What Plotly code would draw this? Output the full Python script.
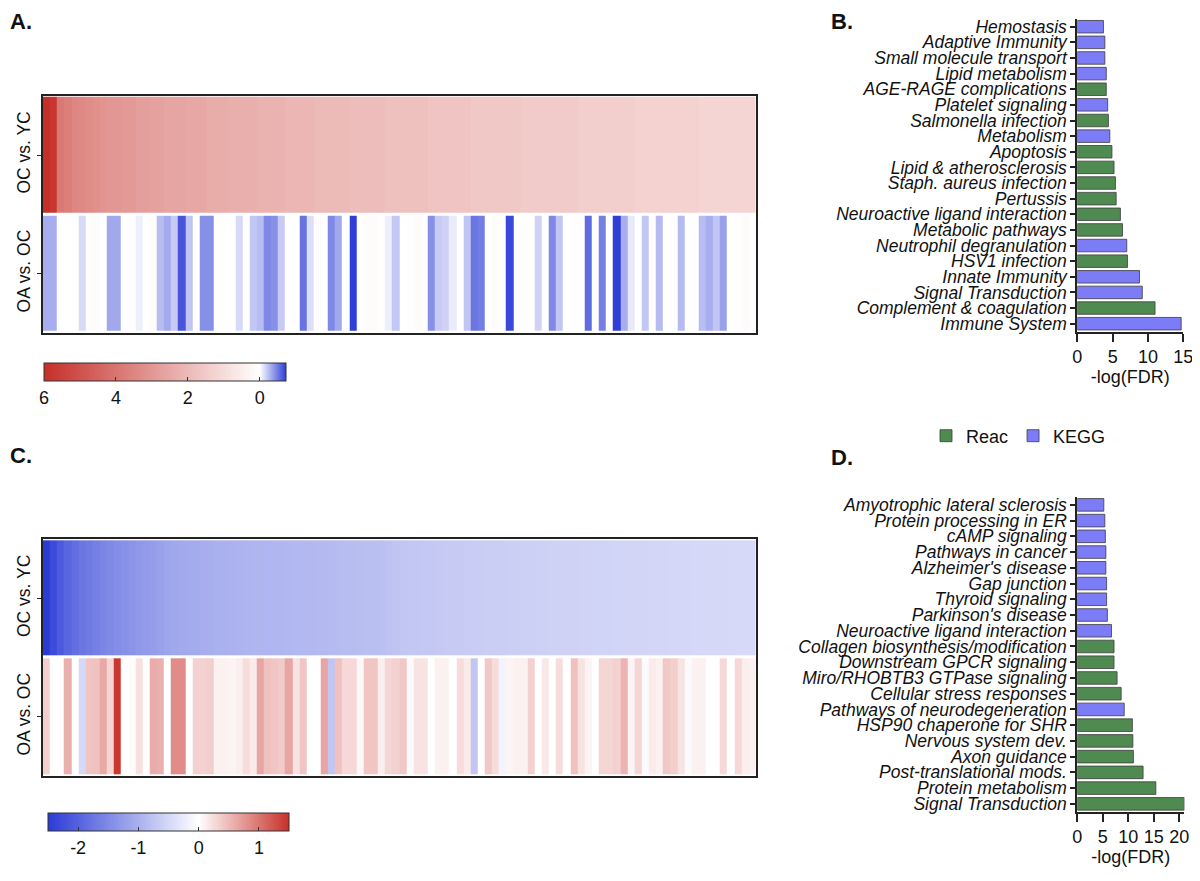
import plotly.graph_objects as go

# the page body keeps an 8px margin, so the figure is a bit smaller than the window
PAD = 8
W, H = 1200 - 2 * PAD, 881 - 2 * PAD
FONT = "Liberation Sans, Arial, sans-serif"

# ---- panel A heatmap (log fold change, sorted by OC vs. YC) ----
rows = ["OC vs. YC", "OA vs. OC"]

a_oc_yc = [6.0, 5.8, 3.9, 3.7, 3.5, 3.4, 3.3, 3.2, 3.1, 3.0,
           3.0, 2.9, 2.9, 2.8, 2.8, 2.7, 2.7, 2.6, 2.6, 2.6,
           2.5, 2.5, 2.5, 2.4, 2.4, 2.4, 2.3, 2.3, 2.3, 2.3,
           2.2, 2.2, 2.2, 2.2, 2.1, 2.1, 2.1, 2.1, 2.0, 2.0,
           2.0, 2.0, 2.0, 1.9, 1.9, 1.9, 1.9, 1.9, 1.8, 1.8,
           1.8, 1.8, 1.8, 1.8, 1.7, 1.7, 1.7, 1.7, 1.7, 1.7,
           1.6, 1.6, 1.6, 1.6, 1.6, 1.6, 1.6, 1.5, 1.5, 1.5,
           1.5, 1.5, 1.5, 1.5, 1.5, 1.4, 1.4, 1.4, 1.4, 1.4,
           1.4, 1.4, 1.4, 1.3, 1.3, 1.3, 1.3, 1.3, 1.3, 1.3,
           1.3, 1.3, 1.2, 1.2, 1.2, 1.2, 1.2, 1.2, 1.2, 1.2]

a_oa_oc = [-0.31, -0.31, 0.0, 0.0, 0.02, -0.14, 0.08, 0.1, 0.0, -0.33,
           -0.33, 0.0, 0.02, -0.06, 0.0, 0.12, -0.25, -0.32, -0.2, -0.64,
           -0.22, 0.0, -0.42, -0.42, 0.0, 0.02, 0.0, -0.14, 0.0, -0.21,
           -0.25, -0.45, -0.42, -0.2, 0.0, 0.02, -0.53, -0.12, 0.08, 0.0,
           -0.45, -0.33, 0.0, -0.73, 0.02, 0.12, 0.1, 0.0, -0.06, -0.21,
           0.0, 0.02, 0.1, 0.05, -0.42, -0.2, -0.17, -0.07, 0.03, -0.22,
           -0.52, -0.49, 0.0, 0.1, 0.0, -0.69, 0.0, 0.02, 0.0, -0.17,
           0.0, -0.45, -0.22, 0.0, 0.05, 0.03, -0.56, 0.0, -0.48, 0.0,
           -0.73, -0.31, -0.08, 0.0, -0.21, 0.03, -0.26, 0.0, 0.02, -0.26,
           0.0, 0.03, -0.25, -0.31, -0.22, -0.36, 0.0, 0.05, 0.12, 0.03]

# ---- panel C heatmap ----
c_oc_yc = [-2.5, -2.3, -2.1, -1.95, -1.85, -1.75, -1.7, -1.62, -1.56, -1.5,
           -1.45, -1.4, -1.36, -1.32, -1.28, -1.25, -1.2, -1.15, -1.12, -1.1,
           -1.08, -1.06, -1.04, -1.02, -1.0, -0.99, -0.98, -0.97, -0.96, -0.95,
           -0.95, -0.94, -0.93, -0.93, -0.92, -0.91, -0.91, -0.9, -0.89, -0.88,
           -0.87, -0.86, -0.85, -0.84, -0.83, -0.82, -0.81, -0.8, -0.78, -0.75,
           -0.73, -0.72, -0.71, -0.7, -0.69, -0.68, -0.67, -0.66, -0.66, -0.65,
           -0.64, -0.64, -0.63, -0.62, -0.62, -0.61, -0.61, -0.6, -0.6, -0.59,
           -0.59, -0.58, -0.58, -0.57, -0.57, -0.56, -0.56, -0.55, -0.55, -0.55,
           -0.54, -0.54, -0.53, -0.53, -0.53, -0.52, -0.52, -0.52, -0.51, -0.51,
           -0.51, -0.5, -0.5, -0.5, -0.49, -0.49, -0.49, -0.48, -0.48, -0.48]

c_oa_oc = [0.35, 0.0, 0.0, 0.57, 0.0, -0.5, 0.43, 0.45, 0.63, 0.3,
           1.45, 0.0, 0.03, 0.22, 0.0, 0.6, 0.57, 0.0, 0.83, 0.83,
           0.0, 0.33, 0.33, 0.35, 0.1, 0.1, 0.08, 0.12, 0.25, 0.15,
           0.65, 0.45, 0.42, 0.38, 0.65, 0.2, 0.42, 0.0, 0.0, 0.65,
           -0.74, 0.45, 0.28, 0.28, 0.05, 0.42, 0.42, 0.12, 0.3, 0.33,
           0.4, -0.05, 0.2, 0.2, 0.0, 0.1, 0.1, 0.0, 0.25, 0.15,
           -0.74, 0.0, 0.4, 0.25, -0.15, 0.08, 0.1, 0.1, 0.33, 0.0,
           0.17, 0.0, 0.25, 0.0, 0.45, 0.2, 0.08, 0.0, 0.3, 0.3,
           0.33, 0.55, 0.08, 0.3, -0.05, 0.15, 0.1, 0.4, 0.35, 0.2,
           -0.05, 0.1, 0.1, 0.0, 0.0, 0.28, 0.0, 0.28, 0.12, 0.1]

# ---- panel B enrichment ----
b_terms = ["Hemostasis", "Adaptive Immunity", "Small molecule transport",
           "Lipid metabolism", "AGE-RAGE complications", "Platelet signaling",
           "Salmonella infection", "Metabolism", "Apoptosis",
           "Lipid & atherosclerosis", "Staph. aureus infection", "Pertussis",
           "Neuroactive ligand interaction", "Metabolic pathways",
           "Neutrophil degranulation", "HSV1 infection", "Innate Immunity",
           "Signal Transduction", "Complement & coagulation", "Immune System"]
b_values = [3.7, 3.9, 3.9, 4.1, 4.1, 4.3, 4.4, 4.6, 4.9, 5.2,
            5.4, 5.5, 6.1, 6.4, 7.0, 7.1, 8.8, 9.2, 11.0, 14.7]
b_source = ["KEGG", "KEGG", "KEGG", "KEGG", "Reac", "KEGG", "Reac", "KEGG", "Reac", "Reac",
            "Reac", "Reac", "Reac", "Reac", "KEGG", "Reac", "KEGG", "KEGG", "Reac", "KEGG"]

# ---- panel D enrichment ----
d_terms = ["Amyotrophic lateral sclerosis", "Protein processing in ER", "cAMP signaling",
           "Pathways in cancer", "Alzheimer's disease", "Gap junction",
           "Thyroid signaling", "Parkinson's disease", "Neuroactive ligand interaction",
           "Collagen biosynthesis/modification", "Downstream GPCR signaling",
           "Miro/RHOBTB3 GTPase signaling", "Cellular stress responses",
           "Pathways of neurodegeneration", "HSP90 chaperone for SHR",
           "Nervous system dev.", "Axon guidance", "Post-translational mods.",
           "Protein metabolism", "Signal Transduction"]
d_values = [5.2, 5.4, 5.5, 5.6, 5.6, 5.75, 5.75, 5.9, 6.7, 7.2,
            7.2, 7.8, 8.6, 9.2, 10.8, 10.9, 11.0, 12.9, 15.4, 21.0]
d_source = ["KEGG", "KEGG", "KEGG", "KEGG", "KEGG", "KEGG", "KEGG", "KEGG", "KEGG", "Reac",
            "Reac", "Reac", "Reac", "KEGG", "Reac", "Reac", "Reac", "Reac", "Reac", "Reac"]

src_colors = {"Reac": "#4f8b50", "KEGG": "#7c7cf7"}


# screen pixel -> paper fraction
def px(x):
    return (x - PAD) / W


def py(y):
    return 1 - (y - PAD) / H


fig = go.Figure()

cols = list(range(len(a_oc_yc)))

# panel A: colour bar runs 6 -> 0 left to right, so plot the negated values
fig.add_trace(go.Heatmap(
    z=[[-v for v in a_oc_yc], [-v for v in a_oa_oc]], x=cols, y=rows,
    zmin=-6, zmax=0.73, ygap=3,
    colorscale=[[0, "#c62f28"], [6 / 6.73, "#ffffff"], [1, "#2f3ed6"]],
    xaxis="x", yaxis="y", hoverinfo="skip",
    colorbar=dict(orientation="h", x=px(44), xanchor="left", y=py(363), yanchor="top",
                  len=242, lenmode="pixels", thickness=18, xpad=0, ypad=0,
                  outlinewidth=1, outlinecolor="#333",
                  tickvals=[-6, -4, -2, 0], ticktext=["6", "4", "2", "0"],
                  ticks="inside", ticklen=4, tickcolor="#333",
                  tickfont=dict(size=18, color="#111")),
))

fig.add_trace(go.Heatmap(
    z=[c_oc_yc, c_oa_oc], x=cols, y=rows,
    zmin=-2.5, zmax=1.5, ygap=3,
    colorscale=[[0, "#2b3bd6"], [0.625, "#ffffff"], [1, "#c8302a"]],
    xaxis="x3", yaxis="y3", hoverinfo="skip",
    colorbar=dict(orientation="h", x=px(48), xanchor="left", y=py(813), yanchor="top",
                  len=241, lenmode="pixels", thickness=18, xpad=0, ypad=0,
                  outlinewidth=1, outlinecolor="#333",
                  tickvals=[-2, -1, 0, 1], ticktext=["-2", "-1", "0", "1"],
                  ticks="inside", ticklen=4, tickcolor="#333",
                  tickfont=dict(size=18, color="#111")),
))

for terms, values, source, xa, ya, show in [(b_terms, b_values, b_source, "x2", "y2", True),
                                           (d_terms, d_values, d_source, "x4", "y4", False)]:
    for src in ["Reac", "KEGG"]:
        fig.add_trace(go.Bar(
            x=[v for v, s in zip(values, source) if s == src],
            y=[t for t, s in zip(terms, source) if s == src],
            orientation="h", width=0.8, name=src, legendgroup=src, showlegend=show,
            marker=dict(color=src_colors[src], line=dict(color="#3c3c3c", width=0.8)),
            xaxis=xa, yaxis=ya,
        ))

heat_x = dict(showticklabels=False, ticks="", showgrid=False, zeroline=False,
              showline=True, mirror=True, linecolor="#222", linewidth=1.5,
              range=[-0.5, len(cols) - 0.5], automargin=False)
heat_y = dict(tickangle=-90, ticks="outside", ticklen=4, tickcolor="#222",
              tickfont=dict(size=17.5, color="#111"), showgrid=False, zeroline=False,
              showline=True, mirror=True, linecolor="#222", linewidth=1.5,
              autorange="reversed", automargin=False)

bar_x = dict(showgrid=False, zeroline=False, showline=True, linecolor="#222", linewidth=2,
             ticks="outside", ticklen=8, tickwidth=2, tickcolor="#222",
             tickfont=dict(size=18, color="#111"), automargin=False,
             ticklabeloverflow="allow",
             title=dict(text="-log(FDR)", font=dict(size=18, color="#111"), standoff=4))
bar_y = dict(type="category", showgrid=False, zeroline=False, showline=True,
             linecolor="#222", linewidth=2, ticks="outside", ticklen=5, tickwidth=1.5,
             tickcolor="#222", tickfont=dict(size=17.5, color="#111", style="italic"),
             range=[19.5, -0.5], categoryorder="array", tickmode="array",
             automargin=False)

fig.update_layout(
    width=W, height=H, margin=dict(l=0, r=0, t=0, b=0, autoexpand=False),
    paper_bgcolor="white", plot_bgcolor="white",
    font=dict(family=FONT, color="#111"),
    barmode="overlay",
    xaxis=dict(heat_x, domain=[px(42.7), px(755.7)], anchor="y"),
    yaxis=dict(heat_y, domain=[py(333), py(95.7)], anchor="x"),
    xaxis3=dict(heat_x, domain=[px(42.7), px(755.7)], anchor="y3"),
    yaxis3=dict(heat_y, domain=[py(776), py(539.3)], anchor="x3"),
    xaxis2=dict(bar_x, domain=[px(1077.3), px(1183.3)], anchor="y2", range=[0, 15],
                tickvals=[0, 5, 10, 15]),
    yaxis2=dict(bar_y, domain=[py(331.5), py(18.9)], anchor="x2",
                categoryarray=b_terms, tickvals=b_terms),
    xaxis4=dict(bar_x, domain=[px(1077.3), px(1184.4)], anchor="y4", range=[0, 21],
                tickvals=[0, 5, 10, 15, 20]),
    yaxis4=dict(bar_y, domain=[py(811.7), py(497)], anchor="x4",
                categoryarray=d_terms, tickvals=d_terms),
    legend=dict(orientation="h", x=px(926), xanchor="left", y=py(436), yanchor="middle",
                font=dict(size=18, color="#111"), traceorder="normal", itemwidth=30),
    annotations=[
        dict(text="<b>%s</b>" % lab, x=px(x), y=py(y), xref="paper", yref="paper",
             xanchor="left", yanchor="middle", showarrow=False,
             font=dict(size=22, color="#111"))
        for lab, x, y in [("A.", 8, 22), ("B.", 829, 22), ("C.", 8, 455), ("D.", 829, 457)]
    ],
)

fig.write_html("out.html")
